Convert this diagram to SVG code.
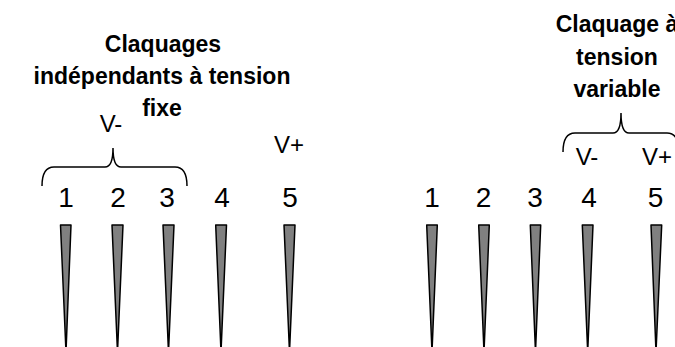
<svg xmlns="http://www.w3.org/2000/svg" width="675" height="347" viewBox="0 0 675 347">
<style>
.title{font-family:"Liberation Sans",Arial,sans-serif;font-weight:bold;font-size:23px;fill:#000;text-anchor:middle}
.num{font-family:"Liberation Sans",Arial,sans-serif;font-size:28px;fill:#000;text-anchor:middle}
.v{font-family:"Liberation Sans",Arial,sans-serif;font-size:24px;fill:#000;text-anchor:middle}
.spike{fill:#808080;stroke:#000;stroke-width:1.5;stroke-linejoin:round}
.brace{fill:none;stroke:#000;stroke-width:1.5}
</style>
<rect width="675" height="347" fill="#fff"/>
<g id="title-left">
<text class="title" x="163" y="52">Claquages</text>
<text class="title" x="162" y="84">indépendants à tension</text>
<text class="title" x="162" y="116">fixe</text>
</g>
<g id="title-right">
<text class="title" x="617" y="32">Claquage à</text>
<text class="title" x="617" y="64.5">tension</text>
<text class="title" x="617" y="97">variable</text>
</g>
<g id="labels-left">
<text class="v" x="111" y="132">V-</text>
<text class="v" x="289" y="153">V+</text>
</g>
<g id="labels-right">
<text class="v" x="587" y="165">V-</text>
<text class="v" x="657" y="165">V+</text>
</g>
<g id="electrodes-left">
<g id="L1"><text class="num" x="66" y="207">1</text><polygon class="spike" points="60.5,225 71,225 66,352"/></g>
<g id="L2"><text class="num" x="118" y="207">2</text><polygon class="spike" points="112,225 123,225 117.5,352"/></g>
<g id="L3"><text class="num" x="167" y="207">3</text><polygon class="spike" points="163,225 174,225 168.5,352"/></g>
<g id="L4"><text class="num" x="222" y="207">4</text><polygon class="spike" points="215.7,225 226.5,225 221,352"/></g>
<g id="L5"><text class="num" x="290" y="207">5</text><polygon class="spike" points="284,225 295,225 289.5,352"/></g>
</g>
<g id="electrodes-right">
<g id="R1"><text class="num" x="432" y="207">1</text><polygon class="spike" points="426.7,225 437.3,225 432,352"/></g>
<g id="R2"><text class="num" x="483.5" y="207">2</text><polygon class="spike" points="478.7,225 489.3,225 484,352"/></g>
<g id="R3"><text class="num" x="535" y="207">3</text><polygon class="spike" points="530.3,225 540.7,225 535.5,352"/></g>
<g id="R4"><text class="num" x="589" y="207">4</text><polygon class="spike" points="582.3,225 593,225 587.7,352"/></g>
<g id="R5"><text class="num" x="655.5" y="207">5</text><polygon class="spike" points="651,225 661.7,225 656,352"/></g>
</g>
<g id="connectors">
<path class="brace" d="M42,186 Q42,167 54,167 L105,167 Q113,167 113,148 Q113,167 121,167 L175,167 Q187,167 187,186"/>
<path class="brace" d="M563,152 Q563,133 575,133 L613,133 Q621,133 621,113 Q621,133 629,133 L667,133 Q679,133 679,152"/>
</g>
</svg>
